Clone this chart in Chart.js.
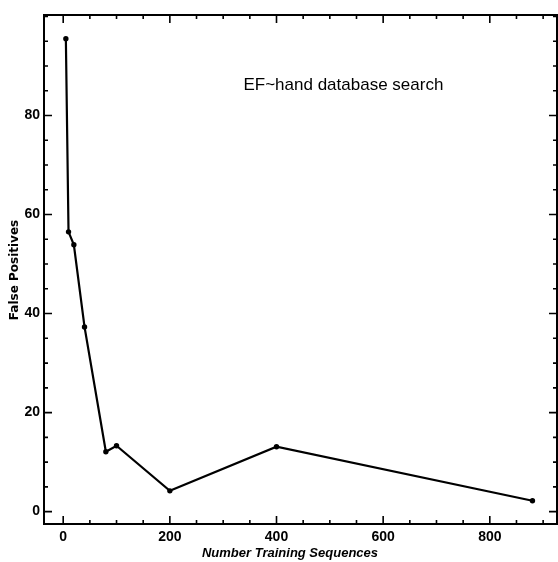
<!DOCTYPE html>
<html>
<head>
<meta charset="utf-8">
<script src="https://cdn.jsdelivr.net/npm/chart.js@4.4.1/dist/chart.umd.min.js"></script>
<style>
html,body{margin:0;padding:0;background:#fff;}
#wrap{width:558px;height:562px;position:relative;}
</style>
</head>
<body>
<div id="wrap"><canvas id="c" width="558" height="562"></canvas></div>
<script>
const trainingSizes = [5, 10, 20, 40, 80, 100, 200, 400, 880];
const falsePositives = [95.5, 56.5, 53.9, 37.3, 12.1, 13.3, 4.2, 13.1, 2.2];
const xTickLabels = [0, 200, 400, 600, 800];
const yTickLabels = [0, 20, 40, 60, 80];
const xMinorStep = 50;
const yMinorStep = 5;
const chartTitle = 'EF~hand database search';
const xTitle = 'Number Training Sequences';
const yTitle = 'False Positives';

const framePlugin = {
  id: 'frame',
  afterDraw(chart) {
    const {ctx, chartArea: a, scales: {x, y}} = chart;
    ctx.save();
    ctx.strokeStyle = '#000';
    ctx.lineWidth = 2;
    ctx.strokeRect(a.left, a.top, a.right - a.left, a.bottom - a.top);
    ctx.lineWidth = 1.6;
    ctx.beginPath();
    for (let v = Math.ceil(x.min / xMinorStep) * xMinorStep; v <= x.max; v += xMinorStep) {
      const px = x.getPixelForValue(v);
      const len = xTickLabels.includes(v) ? 8 : 4;
      ctx.moveTo(px, a.bottom); ctx.lineTo(px, a.bottom - len);
      ctx.moveTo(px, a.top); ctx.lineTo(px, a.top + len);
    }
    for (let v = Math.ceil(y.min / yMinorStep) * yMinorStep; v <= y.max; v += yMinorStep) {
      const py = y.getPixelForValue(v);
      const len = yTickLabels.includes(v) ? 8 : 4;
      ctx.moveTo(a.left, py); ctx.lineTo(a.left + len, py);
      ctx.moveTo(a.right, py); ctx.lineTo(a.right - len, py);
    }
    ctx.stroke();
    // in-plot title
    ctx.fillStyle = '#000';
    ctx.font = '17px "Liberation Sans", Arial, sans-serif';
    ctx.textAlign = 'left';
    ctx.textBaseline = 'middle';
    ctx.fillText(chartTitle, x.getPixelForValue(338), y.getPixelForValue(86));
    // axis titles
    ctx.font = 'bold italic 13px "Liberation Sans", Arial, sans-serif';
    ctx.textAlign = 'center';
    ctx.fillText(xTitle, 290, 553);
    ctx.save();
    ctx.translate(15, 270);
    ctx.rotate(-Math.PI / 2);
    ctx.font = 'bold 12px "DejaVu Sans", sans-serif';
    ctx.fillText(yTitle, 0, 0);
    ctx.restore();
    ctx.restore();
  }
};

new Chart(document.getElementById('c'), {
  type: 'scatter',
  data: {
    datasets: [{
      data: trainingSizes.map((v, i) => ({x: v, y: falsePositives[i]})),
      showLine: true,
      borderColor: '#000',
      backgroundColor: '#000',
      borderWidth: 2.2,
      pointRadius: 1.6,
      pointHoverRadius: 1.6,
      tension: 0
    }]
  },
  options: {
    responsive: false,
    animation: false,
    events: [],
    layout: {autoPadding: false, padding: {top: 15, right: 1, left: 0, bottom: 0}},
    plugins: {legend: {display: false}, tooltip: {enabled: false}, title: {display: false}},
    scales: {
      x: {
        type: 'linear',
        min: -36,
        max: 926,
        grid: {display: false, drawTicks: false},
        border: {display: false},
        afterBuildTicks: s => { s.ticks = xTickLabels.map(v => ({value: v})); },
        afterFit: s => { s.height = 38; s.paddingLeft = 0; s.paddingRight = 0; },
        ticks: {color: '#000', padding: 5, maxRotation: 0, font: {size: 14, weight: 'bold', family: '"Liberation Sans", Arial, sans-serif'}}
      },
      y: {
        type: 'linear',
        min: -2.5,
        max: 100.3,
        grid: {display: false, drawTicks: false},
        border: {display: false},
        afterBuildTicks: s => { s.ticks = yTickLabels.map(v => ({value: v})); },
        afterFit: s => { s.width = 44; s.paddingTop = 0; s.paddingBottom = 0; },
        ticks: {color: '#000', padding: 4, font: {size: 14, weight: 'bold', family: '"Liberation Sans", Arial, sans-serif'}}
      }
    }
  },
  plugins: [framePlugin]
});
</script>
</body>
</html>
